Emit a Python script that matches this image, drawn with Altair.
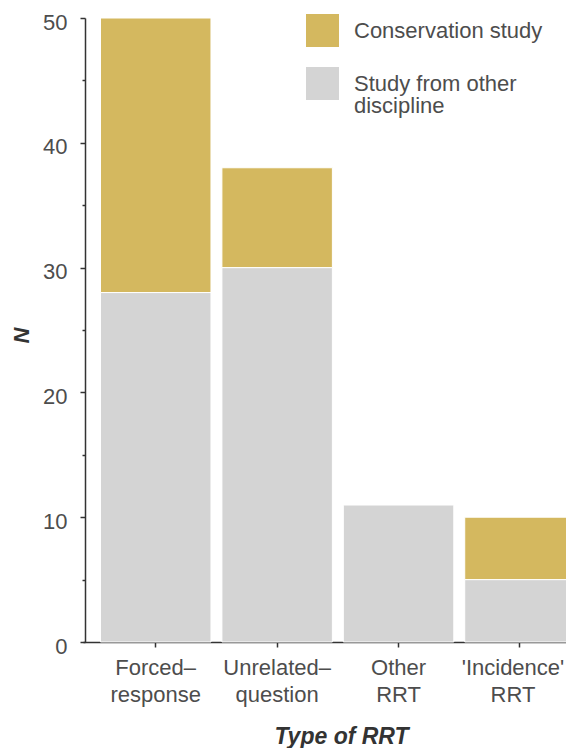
import altair as alt
import pandas as pd

categories = ["Forced–\nresponse", "Unrelated–\nquestion", "Other\nRRT", "'Incidence'\nRRT"]
study_types = ["Conservation study", "Study from other\ndiscipline"]
conservation = [22, 8, 0, 5]
other_discipline = [28, 30, 11, 5]
y_ticks = [0, 5, 10, 15, 20, 25, 30, 35, 40, 45, 50]

GOLD = "#D4B85F"
GRAY = "#D4D4D4"

rows = []
for c, v in zip(categories, other_discipline):
    rows.append({"type": c, "study": study_types[1], "n": v, "order": 0})
for c, v in zip(categories, conservation):
    rows.append({"type": c, "study": study_types[0], "n": v, "order": 1})
df = pd.DataFrame(rows)

FONT = "Liberation Sans"

chart = alt.Chart(df).mark_bar(stroke="white", strokeWidth=1).encode(
    x=alt.X(
        "type:N",
        sort=categories,
        scale=alt.Scale(range=[-2, 507.7], paddingInner=0.09, paddingOuter=0.144),
        axis=alt.Axis(
            title="Type of RRT",
            labelExpr="split(datum.label, '\\n')",
            labelAngle=0,
            labelLineHeight=27,
            labelPadding=10,
            labelBaseline="top",
            labelOffset={"condition": {"test": "indexof(datum.value, 'Incidence') >= 0", "value": -7}, "value": 0},
            tickSize=5,
            titleX=256,
            titleY=101,
            titleFontSize=23,
            titleAlign="center",
            titleBaseline="alphabetic",
        ),
    ),
    y=alt.Y(
        "n:Q",
        stack="zero",
        scale=alt.Scale(domain=[0, 50], nice=False),
        axis=alt.Axis(
            title="N",
            values=y_ticks,
            labelExpr="datum.value % 10 === 0 ? datum.label : ''",
            tickSize={"condition": {"test": "datum.value % 10 !== 0", "value": 3}, "value": 5},
            labelPadding=13,
            labelBaseline="alphabetic",
            labelOffset=11,
            titleAngle=270,
            titleX=-57,
            titleY=317,
            titleAlign="center",
            titleBaseline="alphabetic",
        ),
    ),
    color=alt.Color(
        "study:N",
        scale=alt.Scale(domain=study_types, range=[GOLD, GRAY]),
        legend=alt.Legend(
            title=None,
            orient="none",
            legendX=221,
            legendY=-4,
            symbolType="square",
            symbolSize=1089,
            symbolStrokeWidth=0,
            symbolOpacity=1,
            labelFontSize=22,
            labelOffset=15,
            labelBaseline="middle",
            labelExpr="split(datum.label, '\\n')",
            labelLimit=400,
            labelColor="#4D4D4D",
            labelFont=FONT,
            rowPadding=20,
            padding=0,
        ),
    ),
    order=alt.Order("order:Q", sort="ascending"),
).properties(
    width=481,
    height=624,
    autosize=alt.AutoSizeParams(type="none"),
    padding={"left": 77, "top": 10, "right": 0, "bottom": 106},
    background="white",
).configure(
    style={"guide-label": {"lineHeight": 22}}
).configure_view(
    stroke=None
).configure_axis(
    grid=False,
    labelFont=FONT,
    titleFont=FONT,
    labelFontSize=22,
    titleFontSize=22,
    labelColor="#4D4D4D",
    titleColor="#333333",
    titleFontStyle="italic",
    titleFontWeight="bold",
    domainColor="#333333",
    tickColor="#333333",
    domainWidth=1.5,
    tickWidth=1.5,
)

chart.save("out.html", embed_options={"renderer": "svg", "actions": False})
